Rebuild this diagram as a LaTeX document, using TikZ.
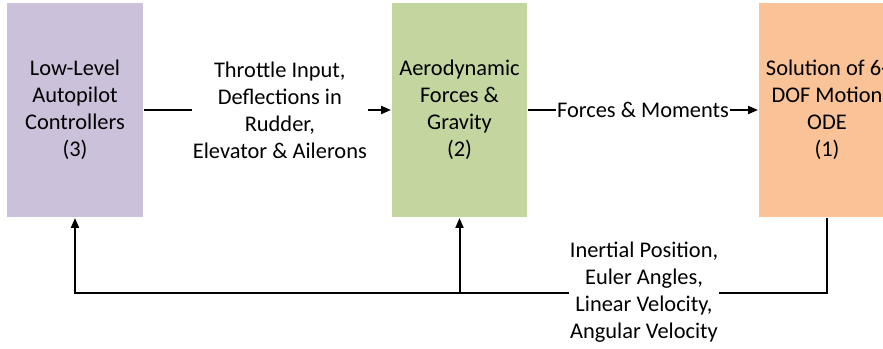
\documentclass[tikz,border=0pt]{standalone}
\usepackage{fontspec}
\setmainfont{Carlito}
\usepackage{tikz}
\usetikzlibrary{arrows.meta,calc,positioning}
\definecolor{lavender}{RGB}{204,193,219}
\definecolor{olivegreen}{RGB}{196,214,160}
\definecolor{peach}{RGB}{249,195,151}

\tikzset{
  blockbox/.style={minimum width=102pt,minimum height=160.5pt,inner sep=0pt,
    align=center,font=\fontsize{16.8pt}{20.2pt}\selectfont},
  siglabel/.style={fill=white,inner sep=1pt,align=center,
    font=\fontsize{16.8pt}{20.2pt}\selectfont},
}

\begin{document}
\begin{tikzpicture}[>={Triangle[length=7.5pt,width=6pt]},x=0.75pt,y=-0.75pt,line width=1.5pt]
  \useasboundingbox (0,0) rectangle (883,349);
  \clip (0,0) rectangle (883,349);
  \node[blockbox,fill=lavender] (ctrl) at (75,110) {Low-Level\\Autopilot\\Controllers\\(3)};
  \node[blockbox,fill=olivegreen,minimum width=101.25pt] (aero) at (459.5,110)
    {Aerodynamic\\Forces \&\\Gravity\\(2)};
  \node[blockbox,fill=peach] (ode) at (827,110) {Solution of 6-\\DOF Motion\\ODE\\(1)};
  \draw[->] (ctrl) -- (aero)
    node[pos=0.55,siglabel] (cmd) {Throttle Input,\\Deflections in\\Rudder,\\Elevator \& Ailerons};
  \draw[->] (aero) -- (ode)
    node[midway,siglabel] (fm) {Forces \& Moments};
  \draw[->] (ode.south) |- (ctrl.south |- 0,293) -- (ctrl.south);
  \draw[->] (aero.south |- 0,293) -- (aero.south);
  \node[siglabel] (state) at (644,292)
    {Inertial Position,\\Euler Angles,\\Linear Velocity,\\Angular Velocity};
\end{tikzpicture}
\end{document}
